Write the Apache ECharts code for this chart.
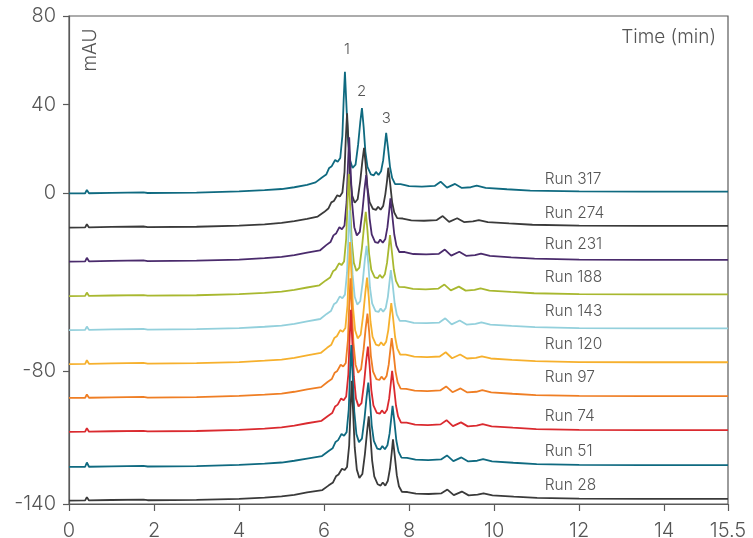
<!DOCTYPE html>
<html>
<head>
<meta charset="utf-8">
<script src="https://cdn.jsdelivr.net/npm/echarts@6/dist/echarts.min.js"></script>
<style>
html,body{margin:0;padding:0;background:#fff;}
#chart{width:753px;height:538px;}
</style>
</head>
<body>
<div id="chart"></div>
<script>
// ---- Data ----
const runNames = ['Run 317','Run 274','Run 231','Run 188','Run 143','Run 120','Run 97','Run 74','Run 51','Run 28'];
// baseline offset (mAU) of each stacked trace
const baselines = [0, -15.4, -30.7, -46.3, -61.6, -76.9, -92.2, -107.5, -123.3, -138.5];
// y value of each run label, x (min) of their left edge
const runLabelY = [6.3, -8.8, -23.0, -38.0, -53.0, -68.1, -83.0, -100.3, -116.1, -131.4];
const runLabelX = 11.19;
// peak labels
const peakNames = ['1','2','3'];
const peakLabelT = [6.54, 6.88, 7.46];
const peakLabelY = [64.7, 45.9, 33.9];
// axis ticks
const xTicks = [0,2,4,6,8,10,12,14,15.5];
const yTicks = [80,40,0,-80,-140];

// trace signals: [time (min), height above the trace baseline (mAU)]
const run317 = [[0,0],[0.38,0.1],[0.42,1.6],[0.47,0.1],[1,0.3],[1.75,0.5],[1.85,0.2],[3,0.4],[4,0.9],[4.6,1.5],[5,2],[5.3,2.8],[5.6,3.9],
[5.8,5.0],[5.95,7.2],[6.05,8.5],[6.12,11.5],[6.18,12.3],[6.26,15.1],[6.32,14.3],[6.38,16.0],[6.43,26],[6.46,42],[6.49,54.9],[6.52,42],[6.56,25],[6.61,15],[6.67,11.5],[6.74,13],[6.8,22],[6.85,32],[6.89,38.5],[6.93,30],[6.97,19],[7.02,12],[7.1,8.6],[7.17,8.2],[7.22,9.7],[7.28,8.3],[7.34,10],[7.39,15],[7.43,22],[7.46,27.3],[7.5,21],[7.55,12],[7.6,7],[7.67,4.2],[7.8,4.2],[8.0,3.3],[8.3,3.1],[8.6,3.4],[8.74,5.3],[8.89,2.6],[9.08,4.3],[9.24,2.5],[9.45,2.8],[9.59,3.5],[9.8,2.5],[10.3,1.9],[10.85,1.3],
[12,0.9],[13.5,0.8],[15.5,0.8]];
const run274 = [[0,0],[0.38,0.1],[0.42,1.5],[0.47,0.1],[1,0.3],[1.75,0.5],[1.85,0.2],[3,0.4],[4,0.9],[4.6,1.5],[5,2.1],[5.3,2.9],[5.6,3.9],
[5.85,5.0],[6.0,7.0],[6.1,8.6],[6.17,11.4],[6.23,12.0],[6.31,14.6],[6.37,14.0],[6.43,15.8],[6.48,25],[6.51,40],[6.54,51.5],[6.57,40],[6.61,24],[6.66,14.5],[6.72,11.2],[6.79,12.8],[6.85,21],[6.9,30],[6.94,36],[6.98,28],[7.02,18],[7.07,11.5],[7.15,8.4],[7.22,8.0],[7.27,9.4],[7.33,8.1],[7.39,9.8],[7.44,15],[7.48,21],[7.51,27],[7.55,20.5],[7.6,11.5],[7.65,6.8],[7.72,4.3],[7.85,4.1],[8.05,3.3],[8.35,3.1],[8.65,3.4],[8.79,5.2],[8.94,2.6],[9.13,4.2],[9.29,2.5],[9.5,2.8],[9.64,3.4],[9.85,2.5],[10.35,1.9],[10.9,1.3],
[12,0.9],[13.5,0.8],[15.5,0.8]];
const run231 = [[0,0],[0.38,0.1],[0.42,1.7],[0.47,0.1],[1,0.3],[1.75,0.5],[1.85,0.2],[3,0.4],[4,0.9],[4.6,1.5],[5,2.1],[5.3,2.9],[5.6,4.0],
[5.9,5.0],[6.05,7.4],[6.15,8.8],[6.22,11.8],[6.28,12.6],[6.36,15.5],[6.42,14.6],[6.48,16.3],[6.53,27],[6.56,43],[6.59,56],[6.62,43],[6.66,26],[6.71,15.5],[6.77,11.8],[6.84,13.4],[6.9,22.5],[6.95,32.5],[6.99,39],[7.03,30.5],[7.07,19.5],[7.12,12.3],[7.2,8.8],[7.27,8.4],[7.32,9.9],[7.38,8.5],[7.44,10.2],[7.49,15.5],[7.53,22.5],[7.56,28.5],[7.6,21.5],[7.65,12.3],[7.7,7.2],[7.77,4.3],[7.9,4.3],[8.1,3.4],[8.4,3.2],[8.7,3.5],[8.84,5.4],[8.99,2.7],[9.18,4.4],[9.34,2.6],[9.55,2.9],[9.69,3.6],[9.9,2.6],[10.4,1.9],[10.95,1.3],
[12,0.9],[13.5,0.8],[15.5,0.8]];
const run188 = [[0,0],[0.38,0.1],[0.42,1.6],[0.47,0.1],[1,0.3],[1.75,0.5],[1.85,0.2],[3,0.4],[4,0.9],[4.6,1.5],[5,2],[5.3,2.8],[5.6,3.9],
[5.89,4.9],[6.04,7.1],[6.14,8.4],[6.21,11.2],[6.27,12.0],[6.35,14.8],[6.41,14.0],[6.47,15.6],[6.52,26],[6.55,42],[6.58,55],[6.61,42],[6.65,25],[6.7,15],[6.76,11.4],[6.83,12.9],[6.89,21.8],[6.94,31.6],[6.98,38],[7.02,29.6],[7.06,18.8],[7.11,11.9],[7.19,8.5],[7.26,8.1],[7.31,9.6],[7.37,8.2],[7.43,9.9],[7.48,15],[7.52,21.8],[7.55,27.5],[7.59,20.8],[7.64,11.9],[7.69,6.9],[7.76,4.2],[7.89,4.1],[8.09,3.3],[8.39,3.1],[8.69,3.4],[8.83,5.2],[8.98,2.6],[9.17,4.3],[9.33,2.5],[9.54,2.8],[9.68,3.5],[9.89,2.5],[10.39,1.9],[10.94,1.3],
[12,0.9],[13.5,0.8],[15.5,0.8]];
const run143 = [[0,0],[0.38,0.1],[0.42,1.6],[0.47,0.1],[1,0.3],[1.75,0.5],[1.85,0.2],[3,0.4],[4,0.9],[4.6,1.5],[5,2],[5.3,2.8],[5.6,3.9],
[5.91,5.0],[6.06,7.3],[6.16,8.6],[6.23,11.6],[6.29,12.4],[6.37,15.2],[6.43,14.4],[6.49,16.0],[6.54,26],[6.57,41],[6.6,54],[6.63,41],[6.67,25],[6.72,15],[6.78,11.5],[6.85,13],[6.91,22],[6.96,32],[7.0,38],[7.04,30],[7.08,19],[7.13,12],[7.21,8.6],[7.28,8.2],[7.33,9.7],[7.39,8.3],[7.45,10],[7.5,15],[7.54,22],[7.57,27],[7.61,21],[7.66,12],[7.71,7],[7.78,4.2],[7.91,4.2],[8.11,3.3],[8.41,3.1],[8.71,3.4],[8.85,5.3],[9.0,2.6],[9.19,4.3],[9.35,2.5],[9.56,2.8],[9.7,3.5],[9.91,2.5],[10.41,1.9],[10.96,1.3],
[12,0.9],[13.5,0.8],[15.5,0.8]];
const run120 = [[0,0],[0.38,0.1],[0.42,1.7],[0.47,0.1],[1,0.3],[1.75,0.5],[1.85,0.2],[3,0.4],[4,0.9],[4.6,1.5],[5,2],[5.3,2.8],[5.6,3.9],
[5.92,5.0],[6.07,7.3],[6.17,8.7],[6.24,11.7],[6.3,12.5],[6.38,15.3],[6.44,14.5],[6.5,16.2],[6.55,26.5],[6.58,42],[6.61,55],[6.64,42],[6.68,25.5],[6.73,15.2],[6.79,11.6],[6.86,13.2],[6.92,22.2],[6.97,32.3],[7.01,39],[7.05,30.3],[7.09,19.3],[7.14,12.2],[7.22,8.7],[7.29,8.3],[7.34,9.8],[7.4,8.4],[7.46,10.1],[7.51,15.3],[7.55,22.3],[7.58,27.5],[7.62,21.2],[7.67,12.2],[7.72,7.1],[7.79,4.3],[7.92,4.2],[8.12,3.3],[8.42,3.1],[8.72,3.4],[8.86,5.3],[9.01,2.6],[9.2,4.3],[9.36,2.5],[9.57,2.8],[9.71,3.5],[9.92,2.5],[10.42,1.9],[10.97,1.3],
[12,0.9],[13.5,0.8],[15.5,0.8]];
const run97 = [[0,0],[0.38,0.1],[0.42,1.6],[0.47,0.1],[1,0.3],[1.75,0.5],[1.85,0.2],[3,0.4],[4,0.9],[4.6,1.5],[5,2],[5.3,2.8],[5.6,3.9],
[5.93,4.9],[6.08,7.2],[6.18,8.5],[6.25,11.4],[6.31,12.2],[6.39,15.0],[6.45,14.2],[6.51,15.8],[6.56,26],[6.59,41],[6.62,54],[6.65,41],[6.69,25],[6.74,15],[6.8,11.4],[6.87,13],[6.93,22],[6.98,31.8],[7.02,38],[7.06,29.8],[7.1,19],[7.15,12],[7.23,8.5],[7.3,8.1],[7.35,9.6],[7.41,8.2],[7.47,9.9],[7.52,15],[7.56,22],[7.59,27],[7.63,21],[7.68,12],[7.73,7],[7.8,4.2],[7.93,4.1],[8.13,3.3],[8.43,3.1],[8.73,3.4],[8.87,5.2],[9.02,2.6],[9.21,4.3],[9.37,2.5],[9.58,2.8],[9.72,3.5],[9.93,2.5],[10.43,1.9],[10.98,1.3],
[12,0.9],[13.5,0.8],[15.5,0.8]];
const run74 = [[0,0],[0.38,0.1],[0.42,1.7],[0.47,0.1],[1,0.3],[1.75,0.5],[1.85,0.2],[3,0.4],[4,0.9],[4.6,1.5],[5,2],[5.3,2.8],[5.6,3.9],
[5.94,5.0],[6.09,7.2],[6.19,8.5],[6.26,11.5],[6.32,12.3],[6.4,15.1],[6.46,14.3],[6.52,16.0],[6.57,26],[6.6,42],[6.63,55],[6.66,42],[6.7,25],[6.75,15],[6.81,11.5],[6.88,13],[6.94,22],[6.99,32],[7.03,38.5],[7.07,30],[7.11,19],[7.16,12],[7.24,8.6],[7.31,8.2],[7.36,9.7],[7.42,8.3],[7.48,10],[7.53,15],[7.57,22],[7.6,27.5],[7.64,21],[7.69,12],[7.74,7],[7.81,4.2],[7.94,4.2],[8.14,3.3],[8.44,3.1],[8.74,3.4],[8.88,5.3],[9.03,2.6],[9.22,4.3],[9.38,2.5],[9.59,2.8],[9.73,3.5],[9.94,2.5],[10.44,1.9],[10.99,1.3],
[12,0.9],[13.5,0.8],[15.5,0.8]];
const run51 = [[0,0],[0.38,0.1],[0.42,2.0],[0.47,0.1],[1,0.3],[1.75,0.5],[1.85,0.2],[3,0.4],[4,0.9],[4.6,1.5],[5,2],[5.3,2.8],[5.6,3.8],
[5.95,4.9],[6.1,7.1],[6.2,8.4],[6.27,11.3],[6.33,12.1],[6.41,14.9],[6.47,14.1],[6.53,15.7],[6.58,26],[6.61,42],[6.64,55],[6.67,42],[6.71,25],[6.76,14.8],[6.82,11.2],[6.89,12.8],[6.95,21.8],[7.0,31.6],[7.04,38],[7.08,29.6],[7.12,18.8],[7.17,11.8],[7.25,8.3],[7.32,7.9],[7.37,9.4],[7.43,8.0],[7.49,9.8],[7.54,15],[7.58,22],[7.61,27.5],[7.65,21],[7.7,11.8],[7.75,6.9],[7.82,4.2],[7.95,4.1],[8.15,3.3],[8.45,3.1],[8.75,3.4],[8.89,5.2],[9.04,2.6],[9.23,4.3],[9.39,2.5],[9.6,2.8],[9.74,3.5],[9.95,2.5],[10.45,1.9],[11.0,1.3],
[12,0.9],[13.5,0.8],[15.5,0.8]];
const run28 = [[0,0],[0.38,0.1],[0.42,1.6],[0.47,0.1],[1,0.3],[1.75,0.5],[1.85,0.2],[3,0.4],[4,0.8],[4.6,1.4],[5,1.9],[5.3,2.6],[5.6,3.7],
[5.96,4.8],[6.11,6.9],[6.21,8.2],[6.28,11.0],[6.34,11.8],[6.42,14.4],[6.48,13.8],[6.54,15.2],[6.59,25],[6.62,41],[6.65,54],[6.68,41],[6.72,24],[6.77,14],[6.83,10.2],[6.9,12],[6.96,21],[7.01,31],[7.05,38],[7.09,29],[7.13,18],[7.18,11],[7.26,7.4],[7.33,6.8],[7.38,8.2],[7.44,6.8],[7.5,9],[7.55,14.5],[7.59,21.5],[7.62,27.6],[7.66,20.5],[7.71,11.5],[7.76,6.5],[7.83,4.0],[7.96,3.9],[8.16,3.2],[8.46,3.0],[8.76,3.3],[8.9,5.0],[9.05,2.5],[9.24,4.1],[9.4,2.4],[9.61,2.7],[9.75,3.3],[9.96,2.4],[10.46,1.8],[11.01,1.3],
[12,0.9],[13.5,0.8],[15.5,0.8]];

const runSignals = [run317, run274, run231, run188, run143, run120, run97, run74, run51, run28];

// ---- Styles ----
const colors = ['#0f6a80','#3a3a3a','#4a2b6c','#a8b82f','#93d0dc','#f6b02d','#ef7e24','#da2a2f','#0f6a80','#3a3a3a'];
const textColor = '#555555';
const axisColor = '#5a5a5a';
const fontFamily = 'Inter, "Liberation Sans", sans-serif';

const chart = echarts.init(document.getElementById('chart'), null, {renderer: 'canvas'});

const series = runSignals.map((sig, i) => {
  const mpData = [{
    coord: [runLabelX, runLabelY[i]],
    label: {show: true, position: 'right', distance: 0, formatter: runNames[i],
      color: textColor, fontSize: 15.5, fontFamily: fontFamily, fontWeight: 300}
  }];
  if (i === 0) {
    peakNames.forEach((p, k) => {
      mpData.push({
        coord: [peakLabelT[k], peakLabelY[k]],
        label: {show: true, position: 'inside', formatter: p,
          color: textColor, fontSize: 15, fontFamily: fontFamily, fontWeight: 300}
      });
    });
  }
  return {
    type: 'line',
    name: runNames[i],
    data: sig.map(d => [d[0], d[1] + baselines[i]]),
    showSymbol: false,
    symbol: 'none',
    smooth: false,
    clip: true,
    lineStyle: {color: colors[i], width: 1.8},
    itemStyle: {color: colors[i]},
    emphasis: {disabled: true},
    markPoint: {
      symbol: 'circle', symbolSize: 0, silent: true, animation: false,
      data: mpData
    }
  };
});

const option = {
  animation: false,
  backgroundColor: '#ffffff',
  grid: {left: 69, right: 25, top: 16, bottom: 34, containLabel: false, outerBoundsMode: 'none',
    show: true, borderColor: axisColor, borderWidth: 1.2, backgroundColor: 'transparent'},
  xAxis: {
    type: 'value', min: 0, max: 15.5, interval: 2,
    axisLine: {show: true, onZero: false, lineStyle: {color: axisColor, width: 1.2}},
    axisTick: {show: true, length: 7, customValues: xTicks, lineStyle: {color: axisColor, width: 1.2}},
    axisLabel: {show: true, customValues: xTicks, margin: 17, color: textColor, fontSize: 20,
      fontFamily: fontFamily, fontWeight: 300, showMinLabel: true, showMaxLabel: true},
    splitLine: {show: false}
  },
  yAxis: {
    type: 'value', min: -140, max: 80, interval: 20,
    axisLine: {show: true, onZero: false, lineStyle: {color: axisColor, width: 1.2}},
    axisTick: {show: true, length: 6, customValues: yTicks, lineStyle: {color: axisColor, width: 1.2}},
    axisLabel: {show: true, customValues: yTicks, margin: 13, color: textColor, fontSize: 20,
      fontFamily: fontFamily, fontWeight: 300, showMinLabel: true, showMaxLabel: true},
    splitLine: {show: false}
  },
  graphic: [
    {type: 'text', x: 90, y: 50, rotation: Math.PI / 2, silent: true,
      style: {text: 'mAU', fill: textColor, fontSize: 19, fontFamily: fontFamily, fontWeight: 300,
        align: 'center', verticalAlign: 'middle'}},
    {type: 'text', x: 716, y: 37, silent: true,
      style: {text: 'Time (min)', fill: textColor, fontSize: 19, fontFamily: fontFamily, fontWeight: 300,
        align: 'right', verticalAlign: 'middle'}}
  ],
  series: series
};

chart.setOption(option);
</script>
</body>
</html>
